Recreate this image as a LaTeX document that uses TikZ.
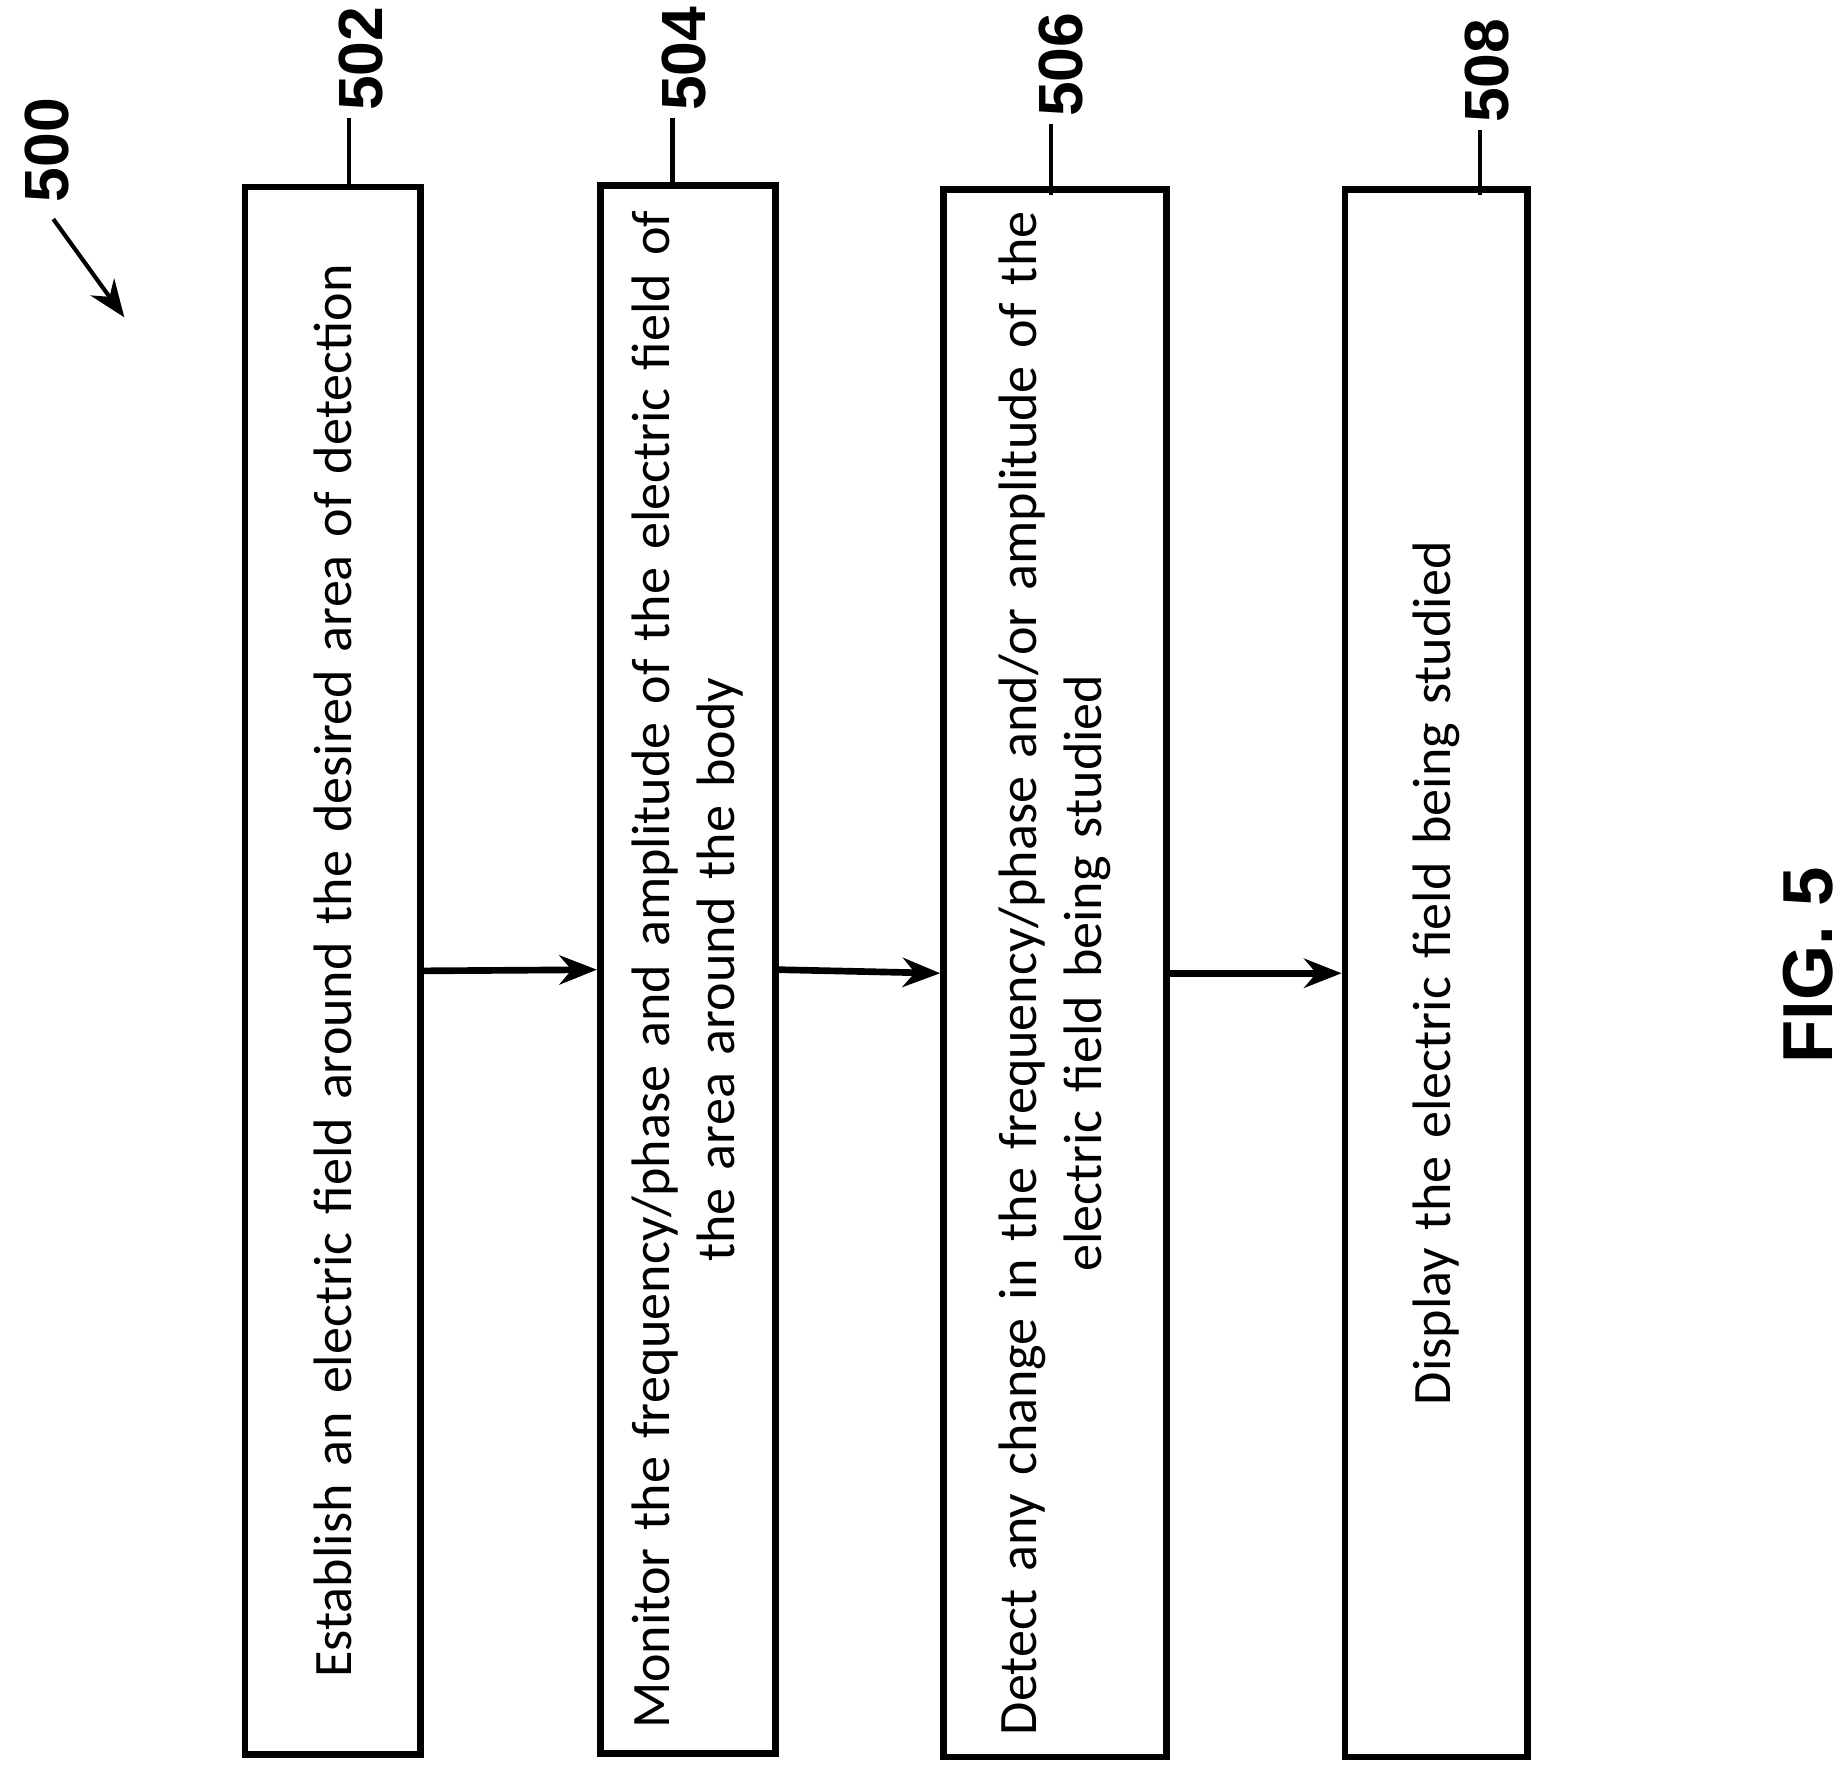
\documentclass[tikz,border=0pt]{standalone}
\usepackage{fontspec}
\setmainfont{Carlito}
\newfontfamily\labfont{Liberation Sans}
\usetikzlibrary{arrows.meta,positioning}
\begin{document}
\begin{tikzpicture}[x=0.01cm,y=-0.01cm,>={Stealth[length=9pt,width=7pt]},
                    line width=1.6pt]
  \tikzstyle{stepbox}=[rectangle,draw=black,fill=white,rotate=90,
                    minimum width=13.2cm,align=center,font=\fontsize{13}{15.6}\selectfont]
  \tikzstyle{ref}=[rotate=90,font=\labfont\bfseries\fontsize{15}{18}\selectfont,anchor=west,inner sep=1pt]
  \useasboundingbox (0,0) rectangle (1560,1496);

  \node[stepbox,minimum height=1.48cm,text width=13cm] (A) at (281,820) {Establish an electric field around the desired area of detection};
  \node[stepbox,minimum height=1.48cm,text width=13cm] (B) at (581,819) {Monitor the frequency/phase and amplitude of the electric field of\\ the area around the body};
  \node[stepbox,minimum height=1.88cm,text width=13cm] (C) at (891,822) {Detect any change in the frequency/phase and/or amplitude of the\\ electric field being studied};
  \node[stepbox,minimum height=1.54cm,text width=13cm] (D) at (1213,822) {Display the electric field being studied};

  \node[ref] (nA) at (305,100) {502};
  \node[ref] (nB) at (578,100) {504};
  \node[ref] (nC) at (896,105) {506};
  \node[ref] (nD) at (1256,110) {508};
  \node[ref] (n0) at (40,177) {500};
  \coordinate (p0) at (105,268);

  \draw[line width=1pt] (295,100) -- (295,160);
  \draw[line width=1pt] (568,100) -- (568,157);
  \draw[line width=1pt] (888,105) -- (888,165);
  \draw[line width=1pt] (1250,110) -- (1250,165);
  \draw[->,line width=1pt] (n0.west) ++(5,8) -- (p0);

  \draw[->] (A.south) -- (B.north);
  \draw[->] (B.south) -- (C.north);
  \draw[->] (C.south) -- (D.north);

  \node[rotate=90,font=\labfont\bfseries\fontsize{17}{20}\selectfont] (fig) at (1527,815) {FIG. 5};
\end{tikzpicture}
\end{document}
